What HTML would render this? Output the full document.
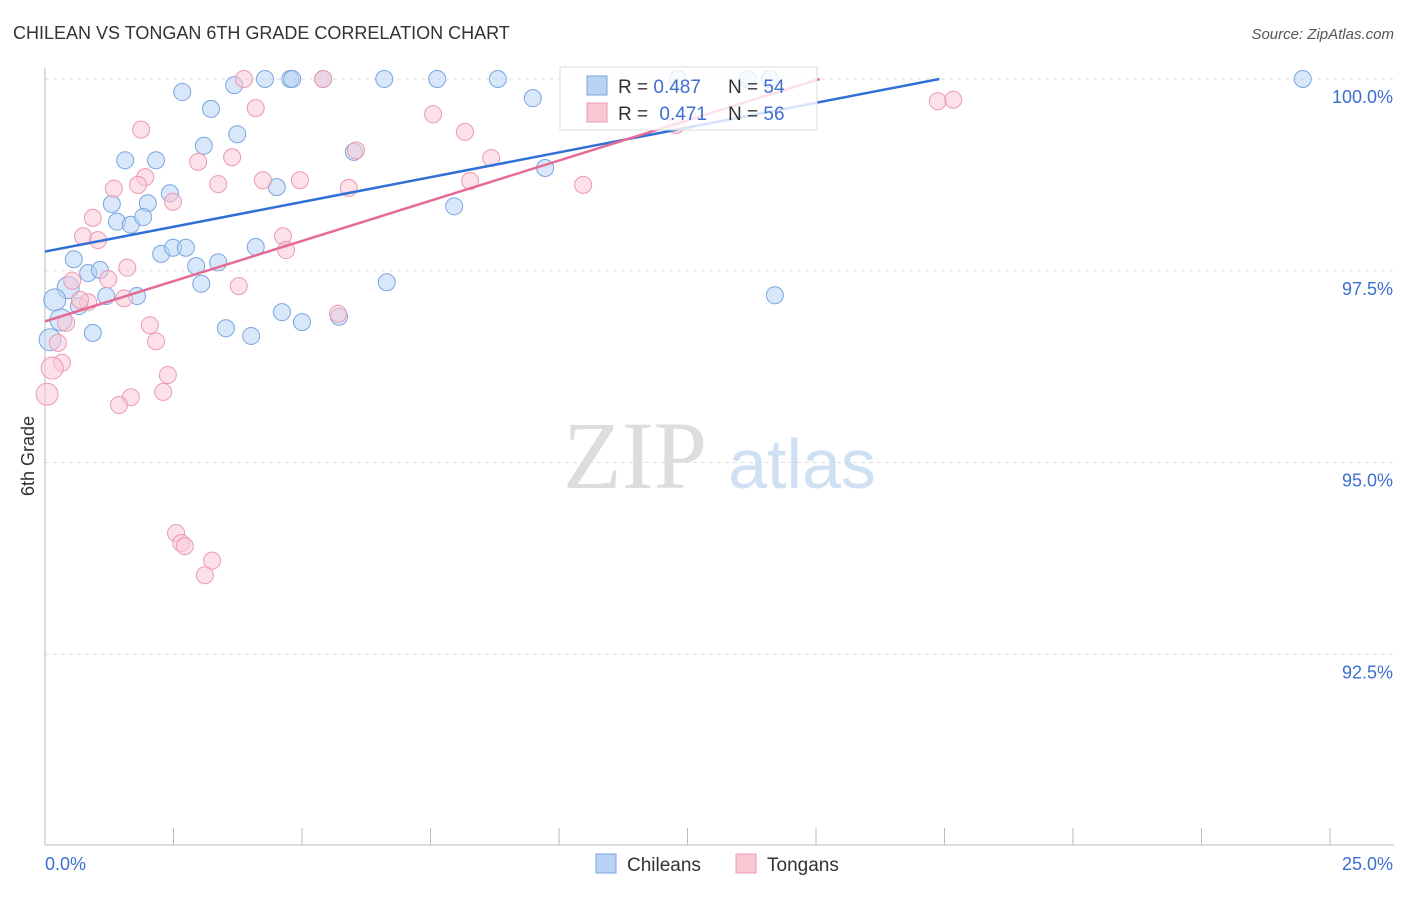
<!DOCTYPE html>
<html><head><meta charset="utf-8"><style>
body{margin:0;background:#fff;font-family:"Liberation Sans",sans-serif}
</style></head><body>
<svg id="chart" width="1406" height="892" xmlns="http://www.w3.org/2000/svg" font-family="Liberation Sans, sans-serif">
<text x="13" y="39" font-size="18" fill="#333">CHILEAN VS TONGAN 6TH GRADE CORRELATION CHART</text>
<text x="1394" y="39" font-size="15" fill="#555" text-anchor="end" font-style="italic">Source: ZipAtlas.com</text>
<g id="grid"></g>
<g>
<text x="635" y="488" font-size="96" fill="#ddd" text-anchor="middle" font-family="Liberation Serif, serif">ZIP</text>
<text x="802" y="488" font-size="70" fill="#cfe0f3" text-anchor="middle">atlas</text>
</g>
<g id="pts"></g>
<g id="lines"></g>
<text transform="translate(34,456) rotate(-90)" font-size="18" fill="#333" text-anchor="middle">6th Grade</text>
<g>
<rect x="560" y="67" width="257" height="63" fill="#fff" fill-opacity="0.8" stroke="#ddd"/>
<rect x="587" y="76" width="20" height="19" fill="#b8d3f4" stroke="#7aa6e0"/>
<rect x="587" y="103" width="20" height="19" fill="#f9c8d5" stroke="#ec9ab1"/>
<text x="618" y="93" font-size="19" fill="#333">R = <tspan fill="#3d6fd1">0.487</tspan></text>
<text x="728" y="93" font-size="19" fill="#333">N = <tspan fill="#3d6fd1">54</tspan></text>
<text x="618" y="120" font-size="19" fill="#333">R = <tspan fill="#3d6fd1" dx="6">0.471</tspan></text>
<text x="728" y="120" font-size="19" fill="#333">N = <tspan fill="#3d6fd1">56</tspan></text>
</g>
<g>
<rect x="596" y="854" width="20" height="19" fill="#b8d3f4" stroke="#7aa6e0"/>
<text x="627" y="871" font-size="19" fill="#333">Chileans</text>
<rect x="736" y="854" width="20" height="19" fill="#f9c8d5" stroke="#ec9ab1"/>
<text x="767" y="871" font-size="19" fill="#333">Tongans</text>
</g>
</svg>
<script>
const xTicks=[0,2.5,5,7.5,10,12.5,15,17.5,20,22.5,25];
const yTicks=[100,97.5,95,92.5];
const yTickLabels=["100.0%","97.5%","95.0%","92.5%"];
const blueX=[2.67,3.23,3.68,4.28,4.77,4.81,5.41,6.60,7.63,8.81,9.49,12.31,13.67,14.10,24.47,3.74,3.09,1.56,2.16,6.01,9.73,2.43,4.51,1.30,2.00,1.40,1.67,1.91,7.96,2.26,2.49,2.74,4.10,0.56,2.94,3.37,0.84,1.07,3.04,6.65,0.45,0.19,1.19,1.79,0.66,14.20,0.31,4.61,5.00,5.72,3.52,4.01,0.93,0.10];
const blueY=[99.83,99.61,99.92,100,100,100,100,100,100,100,99.75,100,100,100,100,99.28,99.13,98.94,98.94,99.05,98.84,98.51,98.59,98.37,98.38,98.14,98.10,98.20,98.34,97.72,97.80,97.80,97.81,97.65,97.56,97.61,97.47,97.51,97.33,97.35,97.28,97.12,97.17,97.17,97.04,97.18,96.86,96.96,96.83,96.90,96.75,96.65,96.69,96.60];
const pinkX=[3.87,5.41,1.87,4.10,7.55,8.17,8.68,3.64,2.98,6.05,1.95,1.34,1.81,2.49,3.37,4.24,4.96,5.91,8.27,10.47,12.28,17.37,17.67,0.93,0.74,1.03,4.63,4.69,1.60,0.53,1.23,3.77,0.84,1.54,0.68,5.70,2.04,0.41,2.16,0.25,0.33,0.14,0.04,2.39,2.30,1.67,1.44,2.55,2.65,2.72,3.25,3.11];
const pinkY=[100,100,99.34,99.62,99.54,99.31,98.97,98.98,98.92,99.07,98.72,98.57,98.62,98.40,98.63,98.68,98.68,98.58,98.67,98.62,99.40,99.71,99.73,98.19,97.95,97.90,97.95,97.77,97.54,97.37,97.39,97.30,97.09,97.14,97.12,96.94,96.79,96.82,96.58,96.56,96.30,96.23,95.89,96.14,95.92,95.85,95.75,94.08,93.95,93.91,93.72,93.53];
const blueLine=[[0,97.75],[17.4,100]];
const pinkLine=[[0,96.84],[15.07,100]];
const X=v=>45+v/25*1285, Y=v=>79+(100-v)*76.7;
const NS="http://www.w3.org/2000/svg";
function mk(t,a,p){const e=document.createElementNS(NS,t);for(const k in a)e.setAttribute(k,a[k]);p.appendChild(e);return e;}
const grid=document.getElementById('grid');
yTicks.forEach((t,i)=>{
 const l=mk('line',{x1:45,x2:1394,y1:Y(t),y2:Y(t),stroke:'#ddd','stroke-dasharray':'4,4'},grid);
 
 
 const tx=mk('text',{x:1393,y:Y(t)+24,'font-size':18,fill:'#3d6fd1','text-anchor':'end'},grid);
 tx.textContent=yTickLabels[i];
 
 
});
const ax=mk('line',{x1:45,x2:45,y1:68,y2:845,stroke:'#bbb'},grid);


const bx=mk('line',{x1:45,x2:1394,y1:845,y2:845,stroke:'#bbb'},grid);


xTicks.forEach(t=>{const l=mk('line',{x1:X(t),x2:X(t),y1:828,y2:845,stroke:'#bbb'},grid);
 
 });
const xl0=mk('text',{x:45,y:870,'font-size':18,fill:'#3d6fd1'},grid);xl0.textContent=xTicks[0].toFixed(1)+'%';


const xl1=mk('text',{x:1393,y:870,'font-size':18,fill:'#3d6fd1','text-anchor':'end'},grid);xl1.textContent=xTicks[10].toFixed(1)+'%';


const pts=document.getElementById('pts');
blueX.forEach((x,i)=>{const c=mk('circle',{cx:X(x),cy:Y(blueY[i]),r:(x<0.5?11:8.5),fill:'#b8d3f4','fill-opacity':0.55,stroke:'#7aa6e0','stroke-width':1},pts);
 
 });
pinkX.forEach((x,i)=>{const c=mk('circle',{cx:X(x),cy:Y(pinkY[i]),r:(x<0.2?11:8.5),fill:'#f9c8d5','fill-opacity':0.55,stroke:'#ec9ab1','stroke-width':1},pts);
 
 });
const lines=document.getElementById('lines');
const bl=mk('line',{x1:X(blueLine[0][0]),y1:Y(blueLine[0][1]),x2:X(blueLine[1][0]),y2:Y(blueLine[1][1]),stroke:'#2f6fd6','stroke-width':2.5},lines);


const pl=mk('line',{x1:X(pinkLine[0][0]),y1:Y(pinkLine[0][1]),x2:X(pinkLine[1][0]),y2:Y(pinkLine[1][1]),stroke:'#e56a95','stroke-width':2.5},lines);


</script>
</body></html>
